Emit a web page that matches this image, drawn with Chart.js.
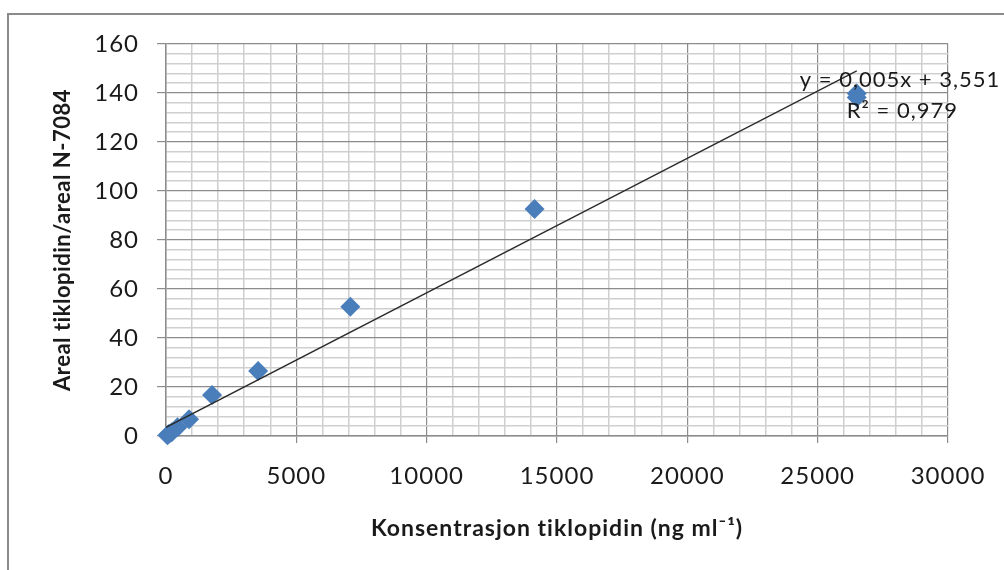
<!DOCTYPE html>
<html>
<head>
<meta charset="utf-8">
<script src="https://cdn.jsdelivr.net/npm/chart.js@4.4.1/dist/chart.umd.min.js"></script>
<style>
  html, body { margin: 0; padding: 0; background: #ffffff; }
  #wrap { width: 1004px; height: 570px; position: relative; }
</style>
</head>
<body>
<div id="wrap"><canvas id="c" width="1004" height="570"></canvas></div>
<script>
// Calibration series: ticlopidine concentration vs. peak-area ratio
const concentrations = [55, 110, 221, 442, 884, 1768, 3535, 7070, 14140, 26500, 26500];
const areaRatios     = [0.3, 0.8, 1.5, 3.6, 6.8, 16.7, 26.5, 52.8, 92.7, 139.8, 138.2];

// Linear trendline (least-squares fit) and its coefficient of determination
const trendSlope = 0.00549;
const trendIntercept = 3.551;
const trendR2 = 0.979;

// Axis ranges and tick spacing
const xRange = [0, 30000];
const xMajorStep = 5000;
const xMinorStep = 1000;
const yRange = [0, 160];
const yMajorStep = 20;
const yMinorStep = 4;

const xTitle = 'Konsentrasjon tiklopidin (ng ml\u207B\u00B9)';
const yTitle = 'Areal tiklopidin/areal N-7084';

const FONT = 'Lato';
const TEXT = '#1a1a1a';
const fmt = (v, d) => v.toFixed(d).replace('.', ',');

const points = concentrations.map((x, i) => ({ x, y: areaRatios[i] }));
const xEnd = Math.max(...concentrations);
const trendPoints = [
  { x: 0, y: trendIntercept },
  { x: xEnd, y: trendIntercept + trendSlope * xEnd }
];

const isMajor = (v, step) => Math.abs(v / step - Math.round(v / step)) < 1e-9;

// White background, slightly tracked horizontal lettering, outer frame
const frame = {
  id: 'frame',
  beforeDraw(chart) {
    const ctx = chart.ctx;
    ctx.save();
    ctx.fillStyle = '#ffffff';
    ctx.fillRect(0, 0, chart.width, chart.height);
    ctx.restore();
    ctx.letterSpacing = '1px';
  },
  afterDraw(chart) {
    const ctx = chart.ctx;
    ctx.save();
    ctx.strokeStyle = '#8a8a8a';
    ctx.lineWidth = 2;
    ctx.strokeRect(8, 14, chart.width + 20, chart.height + 20);
    ctx.restore();
  }
};

// Vertical axis title, drawn beside the value axis
const yAxisTitle = {
  id: 'yAxisTitle',
  afterDraw(chart) {
    const { ctx, chartArea } = chart;
    ctx.save();
    ctx.letterSpacing = '0.5px';
    ctx.translate(63, (chartArea.top + chartArea.bottom) / 2);
    ctx.rotate(-Math.PI / 2);
    ctx.fillStyle = TEXT;
    ctx.font = `bold 22px ${FONT}`;
    ctx.textAlign = 'center';
    ctx.textBaseline = 'middle';
    ctx.fillText(yTitle, 0, 0);
    ctx.restore();
  }
};

// Trendline equation and R² next to the end of the fitted line
const trendLabel = {
  id: 'trendLabel',
  afterDatasetsDraw(chart) {
    const { ctx, scales } = chart;
    const px = scales.x.getPixelForValue(xEnd);
    const py = scales.y.getPixelForValue(trendIntercept + trendSlope * xEnd);
    ctx.save();
    ctx.letterSpacing = '1px';
    ctx.fillStyle = TEXT;
    ctx.font = `22px ${FONT}`;
    ctx.textBaseline = 'middle';
    ctx.textAlign = 'left';
    ctx.fillText(`y = ${fmt(trendSlope, 3)}x + ${fmt(trendIntercept, 3)}`, px - 57, py + 9);
    ctx.fillText(`R\u00B2 = ${fmt(trendR2, 3)}`, px - 10, py + 40);
    ctx.restore();
  }
};

new Chart(document.getElementById('c'), {
  type: 'scatter',
  data: {
    datasets: [
      {
        label: 'Areal',
        data: points,
        pointStyle: 'rectRot',
        pointRadius: 10,
        pointHoverRadius: 10,
        backgroundColor: '#4A7EBB',
        borderColor: '#4A7EBB',
        borderWidth: 0,
        clip: false,
        order: 2
      },
      {
        label: 'Trend',
        type: 'line',
        data: trendPoints,
        borderColor: '#2b2b2b',
        borderWidth: 1.3,
        pointRadius: 0,
        fill: false,
        order: 1
      }
    ]
  },
  options: {
    responsive: false,
    animation: false,
    events: [],
    layout: { padding: { left: 0, top: 44, right: 56, bottom: 0 } },
    plugins: {
      legend: { display: false },
      tooltip: { enabled: false }
    },
    scales: {
      x: {
        type: 'linear',
        min: xRange[0],
        max: xRange[1],
        afterFit(scale) { scale.height = 134; },
        ticks: {
          stepSize: xMinorStep,
          autoSkip: false,
          maxRotation: 0,
          padding: 19,
          color: TEXT,
          font: { family: FONT, size: 24 },
          callback: (v) => isMajor(v, xMajorStep) ? String(v) : ''
        },
        grid: {
          color: (c) => isMajor(c.tick.value, xMajorStep) ? '#8c8c8c' : '#cfcfcf',
          lineWidth: (c) => isMajor(c.tick.value, xMajorStep) ? 1.2 : 1.5,
          tickColor: (c) => isMajor(c.tick.value, xMajorStep) ? '#8c8c8c' : 'rgba(0,0,0,0)',
          tickLength: 7
        },
        border: { color: '#8c8c8c', width: 1.5 },
        title: {
          display: true,
          text: xTitle,
          color: TEXT,
          font: { family: FONT, size: 23, weight: 'bold' },
          padding: { top: 0, bottom: 28 }
        }
      },
      y: {
        type: 'linear',
        min: yRange[0],
        max: yRange[1],
        afterFit(scale) { scale.width = 166; },
        ticks: {
          stepSize: yMinorStep,
          autoSkip: false,
          padding: 18,
          color: TEXT,
          font: { family: FONT, size: 24 },
          callback: (v) => isMajor(v, yMajorStep) ? String(v) : ''
        },
        grid: {
          color: (c) => isMajor(c.tick.value, yMajorStep) ? '#8c8c8c' : '#cfcfcf',
          lineWidth: (c) => isMajor(c.tick.value, yMajorStep) ? 1.2 : 1.5,
          tickColor: (c) => isMajor(c.tick.value, yMajorStep) ? '#8c8c8c' : 'rgba(0,0,0,0)',
          tickLength: 9
        },
        border: { color: '#8c8c8c', width: 1.5 },
        title: { display: false }
      }
    }
  },
  plugins: [frame, yAxisTitle, trendLabel]
});
</script>
</body>
</html>
